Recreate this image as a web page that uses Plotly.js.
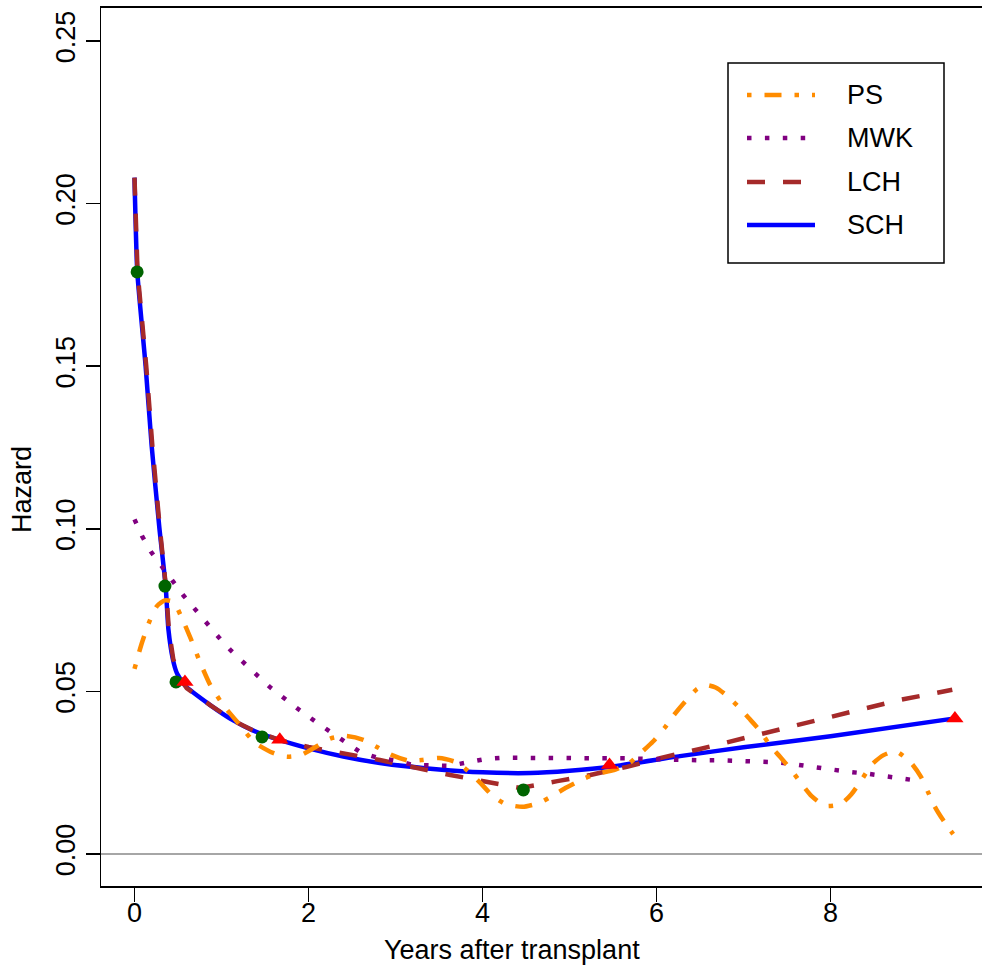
<!DOCTYPE html>
<html>
<head>
<meta charset="utf-8">
<script src="https://cdn.plot.ly/plotly-3.0.1.min.js"></script>
<style>html,body{margin:0;padding:0;background:#fff;}#chart{width:982px;height:967px;}</style>
</head>
<body>
<div id="chart"></div>
<script>
// ---- data ----
const seriesNames = ["PS", "MWK", "LCH", "SCH"];

const psYears = [0, 0.08, 0.17, 0.26, 0.35, 0.45, 0.53, 0.65, 0.75, 0.87, 1.02, 1.2, 1.385, 1.6, 1.75, 1.91, 2.1, 2.25, 2.43, 2.63, 2.78, 2.96, 3.15, 3.3, 3.5, 3.7, 3.83, 3.98, 4.12, 4.26, 4.46, 4.65, 4.8, 4.97, 5.16, 5.33, 5.51, 5.69, 5.82, 5.96, 6.1, 6.19, 6.32, 6.46, 6.56, 6.68, 6.8, 6.94, 7.06, 7.19, 7.31, 7.42, 7.55, 7.67, 7.78, 7.94, 8.12, 8.24, 8.36, 8.47, 8.61, 8.75, 8.93, 9.04, 9.12, 9.2, 9.3, 9.41];
const psHazard = [0.0569, 0.0645, 0.0714, 0.0763, 0.078, 0.0775, 0.0734, 0.066, 0.0592, 0.052, 0.0458, 0.040, 0.0342, 0.031, 0.0299, 0.0304, 0.0332, 0.0355, 0.0363, 0.0351, 0.033, 0.0304, 0.0287, 0.0289, 0.0295, 0.0282, 0.0256, 0.0217, 0.0178, 0.0154, 0.0145, 0.0157, 0.0178, 0.0205, 0.0231, 0.0248, 0.0258, 0.028, 0.0311, 0.0346, 0.039, 0.0424, 0.0466, 0.0506, 0.052, 0.0512, 0.0489, 0.0453, 0.0418, 0.0379, 0.0332, 0.0299, 0.0258, 0.0215, 0.0179, 0.0148, 0.0154, 0.0184, 0.0229, 0.0274, 0.0304, 0.0316, 0.0279, 0.0237, 0.0191, 0.0145, 0.0102, 0.0061];

const mwkYears = [0, 0.086, 0.19, 0.31, 0.44, 0.565, 0.70, 0.83, 0.97, 1.11, 1.26, 1.42, 1.57, 1.73, 1.90, 2.07, 2.24, 2.42, 2.59, 2.78, 2.99, 3.20, 3.41, 3.62, 3.83, 4.03, 4.24, 4.45, 4.66, 4.86, 5.07, 5.28, 5.50, 5.70, 5.91, 6.12, 6.33, 6.54, 6.75, 6.96, 7.17, 7.37, 7.58, 7.79, 8.00, 8.20, 8.42, 8.62, 8.83, 9.04];
const mwkHazard = [0.1029, 0.0978, 0.0929, 0.0883, 0.0839, 0.0794, 0.0751, 0.0708, 0.0666, 0.0625, 0.0585, 0.0547, 0.051, 0.0476, 0.0442, 0.0409, 0.0378, 0.0346, 0.0314, 0.0297, 0.0288, 0.0274, 0.0271, 0.0271, 0.0282, 0.0292, 0.0296, 0.0296, 0.0295, 0.0293, 0.0293, 0.0294, 0.0295, 0.0294, 0.0292, 0.029, 0.0289, 0.0288, 0.0288, 0.0287, 0.0286, 0.0282, 0.0276, 0.0268, 0.0259, 0.0253, 0.0247, 0.024, 0.0234, 0.0224];

const lchYears = [0, 0.035, 0.135, 0.205, 0.29, 0.36, 0.395, 0.445, 0.49, 0.6, 0.87, 1.14, 1.36, 1.67, 2.0, 2.4, 2.82, 3.63, 4.05, 4.43, 4.86, 5.24, 5.66, 6.04, 6.5, 7.65, 8.8, 9.4];
const lchHazard = [0.208, 0.179, 0.150, 0.1256, 0.1005, 0.0824, 0.069, 0.060, 0.0557, 0.051, 0.0458, 0.041, 0.038, 0.035, 0.0329, 0.031, 0.0289, 0.0243, 0.0221, 0.0203, 0.0224, 0.0243, 0.0268, 0.0295, 0.0323, 0.0397, 0.0474, 0.0505];

const schYears = [0, 0.032, 0.128, 0.197, 0.285, 0.358, 0.39, 0.44, 0.486, 0.58, 0.87, 1.14, 1.36, 1.67, 2.0, 2.4, 2.82, 3.5, 4.0, 4.55, 5.0, 5.47, 6.27, 7.0, 8.0, 9.43];
const schHazard = [0.208, 0.179, 0.150, 0.1256, 0.1005, 0.0824, 0.069, 0.060, 0.0557, 0.0518, 0.0458, 0.041, 0.038, 0.035, 0.0325, 0.030, 0.028, 0.026, 0.0251, 0.0249, 0.0256, 0.0268, 0.0301, 0.0328, 0.0362, 0.0417];

const knotCircleYears = [0.03, 0.35, 0.477, 1.466, 4.47];
const knotCircleHazard = [0.179, 0.0824, 0.0529, 0.036, 0.0197];
const knotTriangleYears = [0.58, 1.67, 5.46, 9.43];
const knotTriangleHazard = [0.0529, 0.0351, 0.0274, 0.0417];

const xTicks = [0, 2, 4, 6, 8];
const yTicks = [0, 0.05, 0.10, 0.15, 0.20, 0.25];
const xLabel = "Years after transplant";
const yLabel = "Hazard";

// ---- styles ----
const FONT = "Liberation Sans, Arial, Helvetica, sans-serif";
const FS = 27;
const styles = {
  PS:  {color: "#FF8C00", width: 4.5, dash: "4.5px,13px,17px,13px"},
  MWK: {color: "#800080", width: 4.5, dash: "4.5px,13.4px"},
  LCH: {color: "#A52A2A", width: 4.5, dash: "18px,18px"},
  SCH: {color: "#0000FF", width: 4.5, dash: "solid"}
};

const traces = [
  {x: schYears, y: schHazard, name: "SCH", mode: "lines", line: Object.assign({shape: "spline", smoothing: 0.5}, styles.SCH)},
  {x: lchYears, y: lchHazard, name: "LCH", mode: "lines", line: Object.assign({shape: "linear"}, styles.LCH)},
  {x: mwkYears, y: mwkHazard, name: "MWK", mode: "lines", line: Object.assign({shape: "linear"}, styles.MWK)},
  {x: psYears, y: psHazard, name: "PS", mode: "lines", line: Object.assign({shape: "spline", smoothing: 0.6}, styles.PS)},
  {x: knotCircleYears, y: knotCircleHazard, mode: "markers", name: "knots1",
   marker: {symbol: "circle", size: 13, color: "#006400", line: {width: 0}}},
  {x: knotTriangleYears, y: knotTriangleHazard, mode: "markers", name: "knots2",
   marker: {symbol: "triangle-up", size: 15, color: "#FF0000", line: {width: 0}}}
];
traces.forEach(t => t.showlegend = false);

// plot area in pixels: x 101..982, y 8..886
const W = 982, H = 967, L = 101, R = 0, T = 8, B = 81;
const pw = W - L - R, ph = H - T - B;
const px = v => (v - L) / pw;           // pixel -> paper x
const py = v => (H - B - v) / ph;       // pixel -> paper y

// manual legend (box, samples, labels)
const shapes = [
  {type: "rect", xref: "paper", yref: "paper", x0: px(728), x1: px(944), y0: py(263), y1: py(63),
   line: {color: "#000", width: 1.5}, fillcolor: "rgba(0,0,0,0)"}
];
const annotations = [];
const legendRows = [95, 138, 182, 225];
seriesNames.forEach((n, i) => {
  shapes.push({type: "line", xref: "paper", yref: "paper", x0: px(747), x1: px(815),
    y0: py(legendRows[i]), y1: py(legendRows[i]),
    line: {color: styles[n].color, width: styles[n].width, dash: styles[n].dash}});
  annotations.push({xref: "paper", yref: "paper", x: px(845), y: py(legendRows[i]),
    text: n, showarrow: false, xanchor: "left", yanchor: "middle",
    font: {family: FONT, size: FS, color: "#000"}});
});
annotations.push({xref: "paper", yref: "paper", x: px(512), y: py(950), text: xLabel,
  showarrow: false, xanchor: "center", yanchor: "middle", font: {family: FONT, size: FS, color: "#000"}});
annotations.push({xref: "paper", yref: "paper", x: px(22), y: py(490), text: yLabel, textangle: -90,
  showarrow: false, xanchor: "center", yanchor: "middle", font: {family: FONT, size: FS, color: "#000"}});

const layout = {
  width: W, height: H,
  margin: {l: L, r: R, t: T, b: B, pad: 0},
  paper_bgcolor: "#fff", plot_bgcolor: "#fff",
  font: {family: FONT, size: FS, color: "#000"},
  showlegend: false,
  xaxis: {
    range: [(101 - 134.5) / 87, (982 - 134.5) / 87],
    tickvals: xTicks, ticktext: xTicks.map(String),
    ticks: "outside", ticklen: 14, tickwidth: 1.5, tickcolor: "#000",
    ticklabelstandoff: -12,
    showline: true, linecolor: "#000", linewidth: 2, mirror: true,
    showgrid: false, zeroline: false,
    tickfont: {family: FONT, size: FS, color: "#000"}
  },
  yaxis: {
    range: [-32 / 3252, 846 / 3252],
    tickvals: yTicks, ticktext: yTicks.map(v => v.toFixed(2)), tickangle: -90,
    ticks: "outside", ticklen: 14, tickwidth: 1.5, tickcolor: "#000",
    showline: true, linecolor: "#000", linewidth: 1.5, mirror: false,
    showgrid: false, zeroline: true, zerolinecolor: "#a6a6a6", zerolinewidth: 2,
    tickfont: {family: FONT, size: FS, color: "#000"}
  },
  shapes: shapes,
  annotations: annotations
};

Plotly.newPlot("chart", traces, layout, {staticPlot: true, displayModeBar: false});
</script>
</body>
</html>
